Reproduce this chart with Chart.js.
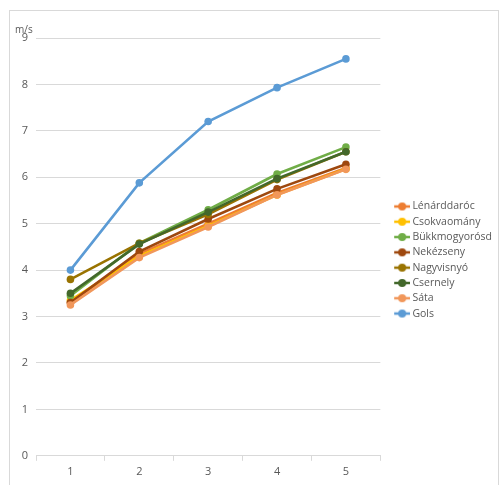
<!DOCTYPE html>
<html>
<head>
<meta charset="utf-8">
<script src="https://cdn.jsdelivr.net/npm/chart.js@4/dist/chart.umd.min.js"></script>
<style>
    html, body { margin: 0; padding: 0; background: #fff; }
    #wrap { position: relative; width: 502px; height: 485px; }
    #frame { position: absolute; left: 9px; top: 10px; width: 490px; height: 480px; border: 1px solid #d9d9d9; box-sizing: border-box; }
    #chartCanvas { position: absolute; left: 0; top: 0; }
</style>
</head>
<body>
<div id="wrap">
    <div id="frame"></div>
    <canvas id="chartCanvas" width="502" height="485"></canvas>
</div>
<script>
    const categories = ['1', '2', '3', '4', '5']
    const seriesNames = ['Lénárddaróc', 'Csokvaomány', 'Bükkmogyorósd', 'Nekézseny', 'Nagyvisnyó', 'Csernely', 'Sáta', 'Gols']
    const seriesColors = ['#ED7D31', '#FFC000', '#70AD47', '#9E480E', '#997300', '#43682B', '#F1975A', '#5B9BD5']

    const lenarddaroc = [3.30, 4.35, 5.00, 5.66, 6.20]
    const csokvaomany = [3.35, 4.30, 4.95, 5.62, 6.18]
    const bukkmogyorosd = [3.45, 4.58, 5.30, 6.07, 6.65]
    const nekezseny = [3.30, 4.40, 5.10, 5.75, 6.28]
    const nagyvisnyo = [3.80, 4.58, 5.20, 5.95, 6.55]
    const csernely = [3.50, 4.56, 5.25, 5.97, 6.55]
    const sata = [3.25, 4.27, 4.93, 5.62, 6.17]
    const gols = [4.00, 5.88, 7.20, 7.93, 8.55]

    const yTicks = [0, 1, 2, 3, 4, 5, 6, 7, 8, 9]
    const unitLabel = 'm/s'

    const allSeries = [lenarddaroc, csokvaomany, bukkmogyorosd, nekezseny, nagyvisnyo, csernely, sata, gols]

    // legend marker: short line with a dot, drawn right of the box centre
    function legendMarker(color) {
        var c = document.createElement('canvas')
        c.width = 28
        c.height = 10
        var g = c.getContext('2d')
        g.strokeStyle = color
        g.lineWidth = 2.5
        g.beginPath()
        g.moveTo(12, 5)
        g.lineTo(28, 5)
        g.stroke()
        g.fillStyle = color
        g.beginPath()
        g.arc(20, 5, 4, 0, Math.PI * 2)
        g.fill()
        return c
    }

    var markers = seriesColors.map(legendMarker)

    var datasets = allSeries.map(function (values, i) {
        return {
            label: seriesNames[i],
            data: values,
            borderColor: seriesColors[i],
            backgroundColor: seriesColors[i],
            borderWidth: 2.6,
            pointRadius: 3.8,
            pointBorderWidth: 0,
            pointStyle: 'circle',
            tension: 0,
            order: allSeries.length - i
        }
    })

    const unitTitle = {
        id: 'unitTitle',
        afterDraw(chart) {
            var ctx = chart.ctx
            ctx.save()
            ctx.font = '10px "Open Sans"'
            ctx.fillStyle = '#595959'
            ctx.textAlign = 'left'
            ctx.textBaseline = 'alphabetic'
            ctx.fillText(unitLabel, 15, 33)
            ctx.restore()
        }
    }

    const ctx = document.getElementById('chartCanvas')
    new Chart(ctx, {
        type: 'line',
        data: { labels: categories, datasets: datasets },
        plugins: [unitTitle],
        options: {
            responsive: false,
            animation: false,
            events: [],
            layout: { padding: { left: 0, top: 38, right: 0, bottom: 3 } },
            plugins: {
                legend: {
                    position: 'right',
                    labels: {
                        usePointStyle: true,
                        pointStyleWidth: 22,
                        padding: 4.8,
                        color: '#595959',
                        font: { family: '"Open Sans"', size: 10.5 },
                        generateLabels: function (chart) {
                            return chart.data.datasets.map(function (d, i) {
                                return {
                                    text: d.label,
                                    fontColor: '#595959',
                                    pointStyle: markers[i],
                                    datasetIndex: i,
                                    hidden: false,
                                    lineWidth: 0,
                                    strokeStyle: 'transparent',
                                    fillStyle: d.borderColor
                                }
                            })
                        }
                    }
                },
                tooltip: { enabled: false }
            },
            scales: {
                x: {
                    offset: true,
                    grid: { display: true, drawOnChartArea: false, drawTicks: true, tickLength: 5, offset: true, color: '#d9d9d9' },
                    border: { color: '#d9d9d9' },
                    ticks: { color: '#595959', font: { family: '"Open Sans"', size: 11 }, padding: 4 }
                },
                y: {
                    min: 0,
                    max: 9,
                    afterFit: function (scale) { scale.width = 36 },
                    afterBuildTicks: function (scale) {
                        scale.ticks = yTicks.map(function (v) { return { value: v } })
                    },
                    grid: { color: '#d9d9d9', drawTicks: false },
                    border: { display: false },
                    ticks: { color: '#595959', font: { family: '"Open Sans"', size: 11 }, padding: 8 }
                }
            }
        }
    })
</script>
</body>
</html>
